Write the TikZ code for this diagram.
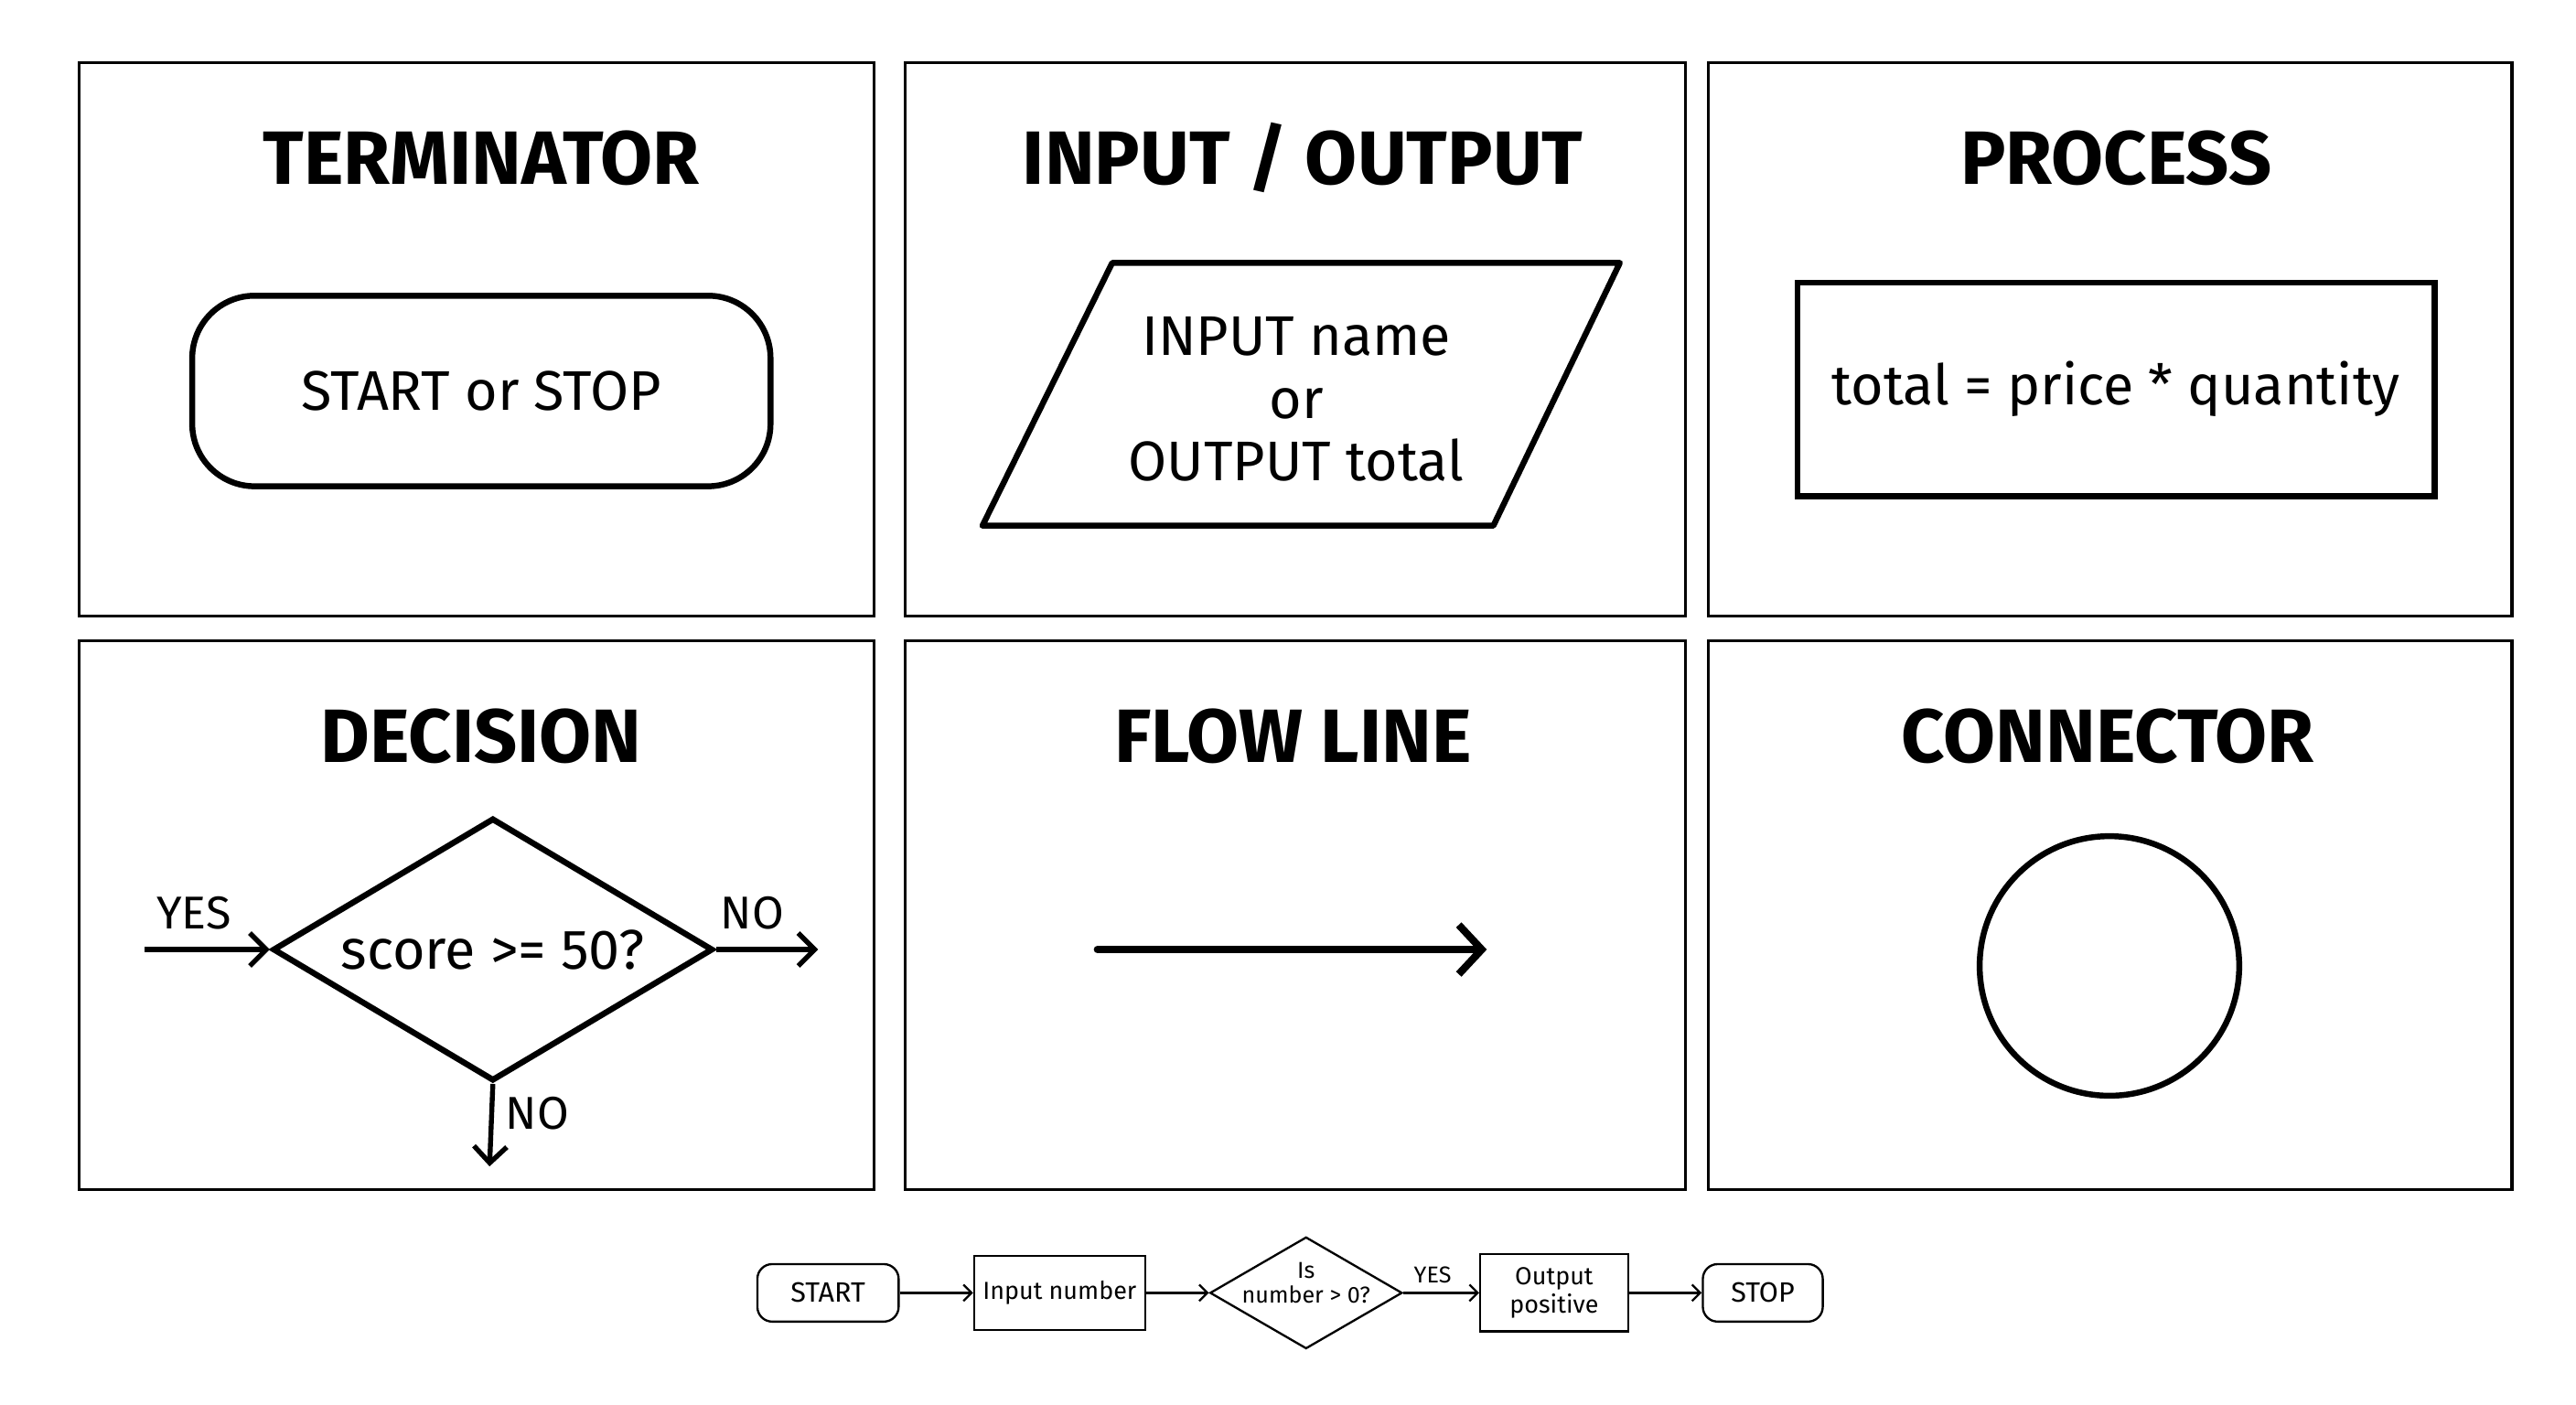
\documentclass[tikz,border=0pt]{standalone}
\usepackage{fontspec}
\setmainfont{Fira Sans}
\usetikzlibrary{shapes.geometric,arrows.meta}
\begin{document}
\begin{tikzpicture}[x=1pt,y=-1pt,
 panel/.style={draw,line width=1.8pt},
 title/.style={font=\fontsize{46}{50}\selectfont\bfseries},
 big/.style={draw,line width=3.6pt},
 lbl/.style={font=\fontsize{34}{38}\selectfont},
 arr/.style={line width=3pt,-{Straight Barb[length=10pt,width=20pt,line width=3pt]}},
 sm/.style={draw,line width=1.3pt,font=\fontsize{17}{19}\selectfont,align=center,inner sep=2pt},
 sarr/.style={line width=1.3pt,-{Straight Barb[length=5pt,width=10pt]}}]
\useasboundingbox (0,0) rectangle (1568,855);
% panels
\node[panel,minimum width=484pt,minimum height=337pt] (p1) at (290,206.5) {};
\node[panel,minimum width=475pt,minimum height=337pt] (p2) at (788.5,206.5) {};
\node[panel,minimum width=489pt,minimum height=337pt] (p3) at (1284.5,206.5) {};
\node[panel,minimum width=484pt,minimum height=334pt] (p4) at (290,557) {};
\node[panel,minimum width=475pt,minimum height=334pt] (p5) at (788.5,557) {};
\node[panel,minimum width=489pt,minimum height=334pt] (p6) at (1284.5,557) {};
% titles
\node[title] (t1) at (293,96) {TERMINATOR};
\node[title] (t2) at (793,96) {INPUT / OUTPUT};
\node[title] (t3) at (1288,96) {PROCESS};
\node[title] (t4) at (293,448) {DECISION};
\node[title] (t5) at (787,448) {FLOW LINE};
\node[title] (t6) at (1283,448) {CONNECTOR};
% terminator
\node[big,rounded corners=38pt,minimum width=352pt,minimum height=116pt,lbl] (term) at (293,238) {START or STOP};
% io
\draw[big,line join=round] (677,160) -- (986,160) -- (909,320) -- (598,320) -- cycle;
\node[lbl,align=center] (io) at (789,243) {INPUT name\\or\\OUTPUT total};
% process
\node[big,minimum width=388pt,minimum height=130pt,lbl,inner sep=0pt] (proc) at (1288,237) {total = price * quantity};
% decision
\node[big,diamond,aspect=1.68,minimum width=268pt,minimum height=160pt,inner sep=0pt] (dec) at (300,578) {};
\node[lbl] (dect) at (300,578) {score >= 50?};
\coordinate (yin) at (88,578);
\coordinate (nout) at (498,578);
\coordinate (ndown) at (298,710);
\draw[arr] (yin) -- (dec.west);
\draw[arr] (dec.east) -- (nout);
\draw[arr] (dec.south) -- (ndown);
\node[lbl,font=\fontsize{28}{30}\selectfont] (ly) at (118,556) {YES};
\node[lbl,font=\fontsize{28}{30}\selectfont] (ln) at (458,556) {NO};
\node[lbl,font=\fontsize{28}{30}\selectfont] (ld) at (327,678) {NO};
% flow line
\coordinate (fa) at (668,578);
\coordinate (fb) at (905,578);
\draw[line width=4.5pt,line cap=round,-{Straight Barb[length=14pt,width=30pt,line width=4.5pt]}] (fa) -- (fb);
% connector
\node[big,circle,minimum size=158pt] (conn) at (1284,588) {};
% bottom flowchart
\node[sm,rounded corners=9pt,minimum width=86pt,minimum height=35pt] (s) at (504,787) {START};
\node[sm,minimum width=104pt,minimum height=45pt,font=\fontsize{15}{17}\selectfont] (in) at (645,787) {Input number};
\node[sm,diamond,aspect=1.72,minimum width=117pt,minimum height=68pt,inner sep=0pt] (d) at (795,787) {};
\node[font=\fontsize{14}{15}\selectfont,align=center] (dt) at (795,781) {Is\\number > 0?};
\node[sm,minimum width=90pt,minimum height=47pt,font=\fontsize{15}{17}\selectfont] (o) at (946,787) {Output\\positive};
\node[sm,rounded corners=9pt,minimum width=73pt,minimum height=35pt] (e) at (1073,787) {STOP};
\draw[sarr] (s) -- (in);
\draw[sarr] (in) -- (d.west);
\draw[sarr] (d.east) -- (o);
\draw[sarr] (o) -- (e);
\node[font=\fontsize{14}{15}\selectfont] (yes) at (872,776) {YES};
\end{tikzpicture}
\end{document}
